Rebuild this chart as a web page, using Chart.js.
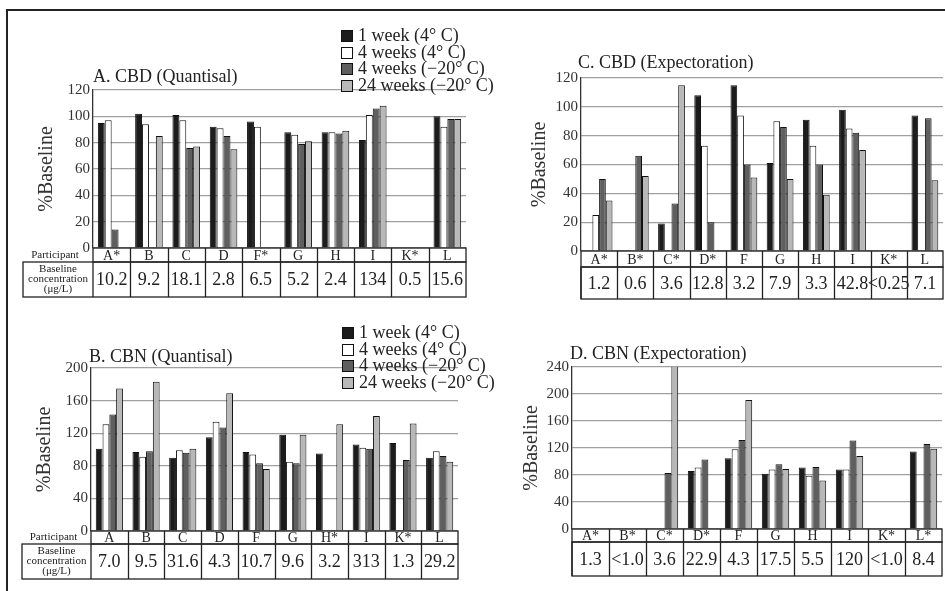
<!DOCTYPE html>
<html>
<head>
<meta charset="utf-8">
<script src="https://cdn.jsdelivr.net/npm/chart.js@4.4.1/dist/chart.umd.min.js"></script>
<style>
body { margin: 0; background: #fff; }
#wrap { position: relative; width: 945px; height: 591px; overflow: hidden; font-family: "Liberation Serif", "DejaVu Serif", serif; }
canvas { position: absolute; }
.frame-top { position: absolute; left: 6px; top: 9px; width: 945px; height: 2px; background: #222; }
.frame-left { position: absolute; left: 6px; top: 9px; width: 2px; height: 590px; background: #222; }
.legend { position: absolute; font-size: 18px; color: #222; z-index: 2; }
.legend div { white-space: nowrap; height: 16.5px; line-height: 16.5px; }
.legend span { display: inline-block; width: 10px; height: 10px; border: 1px solid #111; margin-right: 5px; vertical-align: -1px; }
</style>
</head>
<body>
<div id="wrap">
  <div class="frame-top"></div>
  <div class="frame-left"></div>
  <canvas id="chartA" width="455" height="245" style="left:15px;top:60px"></canvas>
  <canvas id="chartC" width="445" height="260" style="left:500px;top:45px"></canvas>
  <canvas id="chartB" width="455" height="245" style="left:15px;top:340px"></canvas>
  <canvas id="chartD" width="445" height="250" style="left:500px;top:335px"></canvas>
  <div class="legend" id="legendA" style="left:341px;top:27px"></div>
  <div class="legend" id="legendB" style="left:342px;top:324px"></div>
</div>
<script>
var seriesLabels = ['1 week (4° C)', '4 weeks (4° C)', '4 weeks (−20° C)', '24 weeks (−20° C)'];
var seriesColors = ['#1c1c1c', '#ffffff', '#5f5f5f', '#b8b8b8'];

// A. CBD (Quantisal)
var cbdQParticipants = ['A*', 'B', 'C', 'D', 'F*', 'G', 'H', 'I', 'K*', 'L'];
var cbdQ1w   = [95, 102, 101, 92, 96, 88, 88, 82, null, 100];
var cbdQ4w   = [97, 94, 97, 91, 92, 86, 88, 101, null, 92];
var cbdQ4wF  = [14, null, 76, 85, null, 79, 87, 106, null, 98];
var cbdQ24wF = [null, 85, 77, 75, null, 81, 89, 108, null, 98];
var cbdQBase = ['10.2', '9.2', '18.1', '2.8', '6.5', '5.2', '2.4', '134', '0.5', '15.6'];

// C. CBD (Expectoration)
var cbdEParticipants = ['A*', 'B*', 'C*', 'D*', 'F', 'G', 'H', 'I', 'K*', 'L'];
var cbdE1w   = [null, null, 19, 108, 115, 61, 91, 98, null, 94];
var cbdE4w   = [25, null, null, 73, 94, 90, 73, 85, null, null];
var cbdE4wF  = [50, 66, 33, 20, 60, 86, 60, 82, null, 92];
var cbdE24wF = [35, 52, 115, null, 51, 50, 39, 70, null, 49];
var cbdEBase = ['1.2', '0.6', '3.6', '12.8', '3.2', '7.9', '3.3', '42.8', '<0.25', '7.1'];

// B. CBN (Quantisal)
var cbnQParticipants = ['A', 'B', 'C', 'D', 'F', 'G', 'H*', 'I', 'K*', 'L'];
var cbnQ1w   = [101, 97, 90, 115, 97, 118, 95, 106, 108, 90];
var cbnQ4w   = [131, 91, 99, 134, 94, 85, null, 102, null, 98];
var cbnQ4wF  = [143, 98, 96, 127, 83, 83, null, 101, 87, 92];
var cbnQ24wF = [175, 183, 101, 169, 76, 118, 131, 141, 132, 85];
var cbnQBase = ['7.0', '9.5', '31.6', '4.3', '10.7', '9.6', '3.2', '313', '1.3', '29.2'];

// D. CBN (Expectoration)
var cbnEParticipants = ['A*', 'B*', 'C*', 'D*', 'F', 'G', 'H', 'I', 'K*', 'L*'];
var cbnE1w   = [null, null, null, 86, 105, 82, 91, 88, null, 115];
var cbnE4w   = [null, null, null, 91, 118, 88, 79, 88, null, null];
var cbnE4wF  = [null, null, 83, 103, 132, 96, 92, 131, null, 126];
var cbnE24wF = [null, null, 250, null, 191, 89, 72, 108, null, 119];
var cbnEBase = ['1.3', '<1.0', '3.6', '22.9', '4.3', '17.5', '5.5', '120', '<1.0', '8.4'];

var SERIF = '"Liberation Serif", "DejaVu Serif", serif';

// draws panel title and the participant / baseline table under the bars
var tablePlugin = {
    id: 'panelTable',
    afterDraw: function(chart, args, o) {
        var ctx = chart.ctx, a = chart.chartArea, x = chart.scales.x;
        var n = chart.data.labels.length;
        var half = (x.getPixelForValue(1) - x.getPixelForValue(0)) / 2;
        var y0 = a.bottom, y1 = y0 + o.row1, y2 = y1 + o.row2;
        var left2 = a.left - (o.labelWidth || 0);

        ctx.save();
        ctx.fillStyle = '#222';
        ctx.font = '18px ' + SERIF;
        ctx.textAlign = 'left';
        ctx.textBaseline = 'middle';
        ctx.fillText(o.title, a.left + o.titleDx, a.top - o.titleDy);

        ctx.strokeStyle = '#222';
        ctx.lineWidth = 1.3;
        ctx.strokeRect(a.left, y0, a.right - a.left, o.row1);
        ctx.strokeRect(left2, y1, a.right - left2, o.row2);
        ctx.beginPath();
        for (var i = 1; i < n; i++) {
            var bx = Math.round(x.getPixelForValue(i) - half) + 0.5;
            ctx.moveTo(bx, y0);
            ctx.lineTo(bx, y2);
        }
        ctx.moveTo(a.left, y1);
        ctx.lineTo(a.left, y2);
        ctx.stroke();

        ctx.textAlign = 'center';
        for (var j = 0; j < n; j++) {
            var cx = x.getPixelForValue(j);
            ctx.font = '14px ' + SERIF;
            ctx.fillText(chart.data.labels[j], cx, (y0 + y1) / 2 + 1);
            ctx.font = '18px ' + SERIF;
            ctx.fillText(o.base[j], cx, (y1 + y2) / 2 + 1);
        }

        if (o.labelWidth) {
            var lx = (left2 + a.left) / 2;
            ctx.font = '11px ' + SERIF;
            ctx.fillText('Participant', lx - 3, (y0 + y1) / 2);
            var ly = (y1 + y2) / 2;
            ctx.fillText('Baseline', lx, ly - 10);
            ctx.fillText('concentration', lx, ly);
            ctx.fillText('(μg/L)', lx, ly + 10);
        }
        ctx.restore();
    }
};

function makePanel(id, p) {
    var box = p.box, area = p.area;
    var padLeft = p.yTitleX - 10 - box[0];
    var yWidth = area[0] - (box[0] + padLeft);
    var datasets = p.series.map(function(values, k) {
        return {
            label: seriesLabels[k],
            data: values,
            backgroundColor: seriesColors[k],
            borderColor: '#111',
            borderWidth: 1,
            categoryPercentage: 0.74,
            barPercentage: 1.0
        };
    });
    return new Chart(document.getElementById(id).getContext('2d'), {
        type: 'bar',
        data: { labels: p.labels, datasets: datasets },
        options: {
            responsive: false,
            animation: false,
            devicePixelRatio: 1,
            layout: {
                padding: {
                    left: padLeft,
                    top: area[1] - box[1],
                    right: box[0] + box[2] - area[2],
                    bottom: box[1] + box[3] - area[3]
                }
            },
            scales: {
                x: { display: false },
                y: {
                    min: 0,
                    max: p.max,
                    afterFit: function(scale) { scale.width = yWidth; },
                    ticks: { stepSize: p.step, padding: 3, color: '#333', font: { family: SERIF, size: 15 } },
                    grid: { color: '#a0a0a0', lineWidth: 1.2, drawTicks: false },
                    border: { display: true, color: '#333', width: 1.3 },
                    title: {
                        display: true,
                        text: '%Baseline',
                        color: '#333',
                        padding: 0,
                        font: { family: SERIF, size: 20, lineHeight: 1 }
                    }
                }
            },
            plugins: {
                legend: { display: false },
                tooltip: { enabled: false },
                panelTable: {
                    title: p.title,
                    titleDx: p.titleX - area[0],
                    titleDy: area[1] - p.titleY,
                    row1: p.row1,
                    row2: p.row2,
                    labelWidth: p.labelWidth,
                    base: p.base
                }
            }
        },
        plugins: [tablePlugin]
    });
}

makePanel('chartA', {
    box: [15, 60, 455, 245], area: [93, 90, 466, 248], yTitleX: 47,
    max: 120, step: 20, labels: cbdQParticipants,
    series: [cbdQ1w, cbdQ4w, cbdQ4wF, cbdQ24wF], base: cbdQBase,
    title: 'A. CBD (Quantisal)', titleX: 93, titleY: 77,
    row1: 14, row2: 35, labelWidth: 70
});

makePanel('chartC', {
    box: [500, 45, 445, 260], area: [581, 78, 943, 251], yTitleX: 540,
    max: 120, step: 20, labels: cbdEParticipants,
    series: [cbdE1w, cbdE4w, cbdE4wF, cbdE24wF], base: cbdEBase,
    title: 'C. CBD (Expectoration)', titleX: 578, titleY: 63,
    row1: 16, row2: 32
});

makePanel('chartB', {
    box: [15, 340, 455, 245], area: [91, 368, 458, 531], yTitleX: 45,
    max: 200, step: 40, labels: cbnQParticipants,
    series: [cbnQ1w, cbnQ4w, cbnQ4wF, cbnQ24wF], base: cbnQBase,
    title: 'B. CBN (Quantisal)', titleX: 89, titleY: 357,
    row1: 13, row2: 35, labelWidth: 69
});

makePanel('chartD', {
    box: [500, 335, 445, 250], area: [572, 367, 942, 529], yTitleX: 532,
    max: 240, step: 40, labels: cbnEParticipants,
    series: [cbnE1w, cbnE4w, cbnE4wF, cbnE24wF], base: cbnEBase,
    title: 'D. CBN (Expectoration)', titleX: 570, titleY: 354,
    row1: 13, row2: 34
});

// html legends for the two left panels
['legendA', 'legendB'].forEach(function(id) {
    var el = document.getElementById(id);
    seriesLabels.forEach(function(label, k) {
        var row = document.createElement('div');
        var sw = document.createElement('span');
        sw.style.background = seriesColors[k];
        row.appendChild(sw);
        row.appendChild(document.createTextNode(label));
        el.appendChild(row);
    });
});
</script>
</body>
</html>
